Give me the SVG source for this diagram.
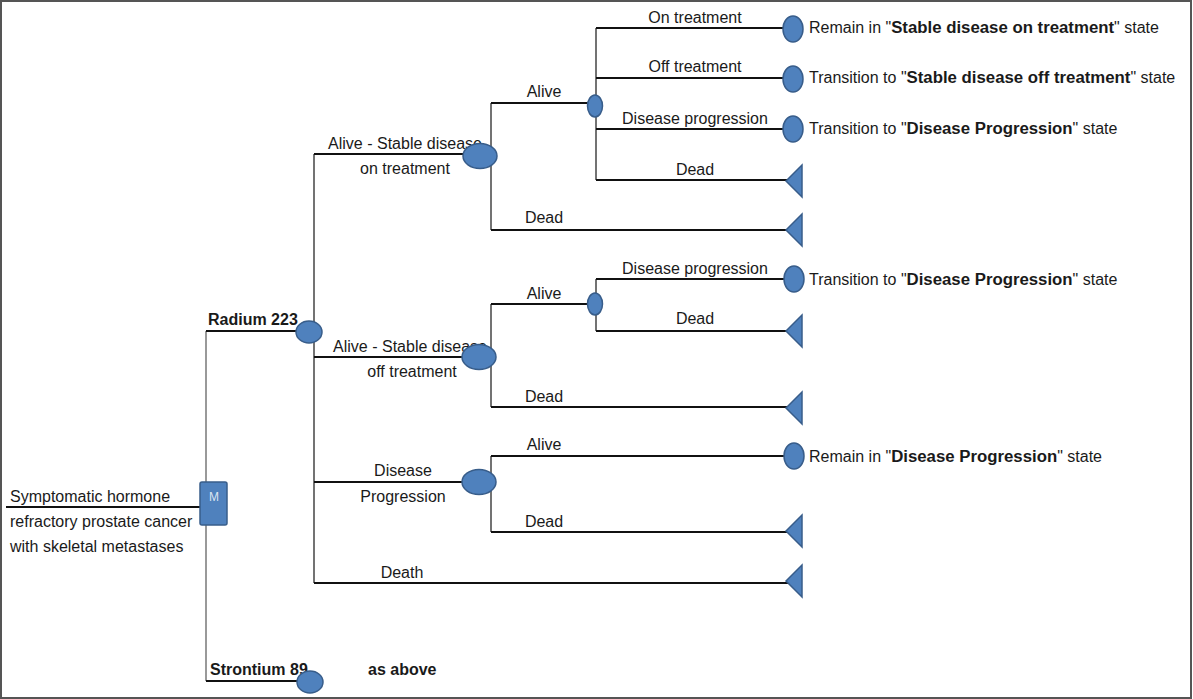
<svg xmlns="http://www.w3.org/2000/svg" width="1193" height="699" viewBox="0 0 1193 699">
<style>
text{font-family:"Liberation Sans",Arial,sans-serif;font-size:16px;fill:#1a1a1a}
.b{font-weight:bold}
.bt{font-weight:bold;font-size:16.8px}
.m{text-anchor:middle}
.h{stroke:#111;stroke-width:2;fill:none}
.v{stroke:#444;stroke-width:1.5;fill:none}
.g{stroke:#777;stroke-width:1.5;fill:none}
.n{fill:#4f81bd;stroke:#385d8a;stroke-width:1.5}
</style>
<defs>
<polygon id="tri" points="0,0 16,-16 16,16" class="n"/>
</defs>
<rect x="1" y="1" width="1190" height="697" fill="#fff" stroke="#555" stroke-width="2"/>
<g id="connectors">
<line class="h" x1="6" y1="507" x2="200" y2="507"/>
<line class="g" x1="206" y1="331" x2="206" y2="681"/>
<line class="h" x1="206" y1="331" x2="300" y2="331"/>
<line class="h" x1="206" y1="681" x2="300" y2="681"/>
<line class="v" x1="314" y1="154" x2="314" y2="583"/>
<line class="h" x1="314" y1="154" x2="470" y2="154"/>
<line class="h" x1="314" y1="357" x2="470" y2="357"/>
<line class="h" x1="314" y1="482" x2="470" y2="482"/>
<line class="h" x1="314" y1="583" x2="790" y2="583"/>
<line class="v" x1="491" y1="103" x2="491" y2="230"/>
<line class="h" x1="491" y1="103" x2="590" y2="103"/>
<line class="h" x1="491" y1="230" x2="790" y2="230"/>
<line class="v" x1="596" y1="28" x2="596" y2="180"/>
<line class="h" x1="596" y1="28" x2="785" y2="28"/>
<line class="h" x1="596" y1="78" x2="785" y2="78"/>
<line class="h" x1="596" y1="129" x2="785" y2="129"/>
<line class="h" x1="596" y1="180" x2="790" y2="180"/>
<line class="v" x1="491" y1="304" x2="491" y2="407"/>
<line class="h" x1="491" y1="304" x2="590" y2="304"/>
<line class="h" x1="491" y1="407" x2="790" y2="407"/>
<line class="v" x1="596" y1="279" x2="596" y2="331"/>
<line class="h" x1="596" y1="279" x2="785" y2="279"/>
<line class="h" x1="596" y1="331" x2="790" y2="331"/>
<line class="v" x1="491" y1="456" x2="491" y2="532"/>
<line class="h" x1="491" y1="456" x2="785" y2="456"/>
<line class="h" x1="491" y1="532" x2="790" y2="532"/>
</g>
<g id="root">
<text x="10" y="502">Symptomatic hormone</text>
<text x="10" y="527">refractory prostate cancer</text>
<text x="10" y="552">with skeletal metastases</text>
</g>
<g id="decision">
<rect x="200" y="482" width="27" height="43" rx="2" class="n"/>
<text x="214" y="501" class="m" style="font-size:12px;fill:#dbe5f1">M</text>
</g>
<g id="radium">
<text x="208" y="325" class="b">Radium 223</text>
<ellipse cx="309" cy="332" rx="13" ry="11" class="n"/>
</g>
<g id="strontium">
<text x="210" y="675" class="b">Strontium 89</text>
<ellipse cx="310" cy="682" rx="13" ry="11" class="n"/>
<text x="368" y="675" class="b">as above</text>
</g>
<g id="sd-on">
<text x="405" y="149" class="m">Alive - Stable disease</text>
<text x="405" y="174" class="m">on treatment</text>
<ellipse cx="480" cy="156" rx="17" ry="12.5" class="n"/>
</g>
<g id="sd-on-alive">
<text x="544" y="97" class="m">Alive</text>
<ellipse cx="595" cy="106" rx="7.5" ry="11" class="n"/>
</g>
<g id="sd-on-alive-on">
<text x="695" y="23" class="m">On treatment</text>
<ellipse cx="793" cy="29" rx="10" ry="13" class="n"/>
<text x="809" y="33">Remain in "<tspan class="bt">Stable disease on treatment</tspan>" state</text>
</g>
<g id="sd-on-alive-off">
<text x="695" y="72" class="m">Off treatment</text>
<ellipse cx="793" cy="79" rx="10" ry="13" class="n"/>
<text x="809" y="83">Transition to "<tspan class="bt">Stable disease off treatment</tspan>" state</text>
</g>
<g id="sd-on-alive-prog">
<text x="695" y="124" class="m">Disease progression</text>
<ellipse cx="793" cy="129" rx="10" ry="13" class="n"/>
<text x="809" y="134">Transition to "<tspan class="bt">Disease Progression</tspan>" state</text>
</g>
<g id="sd-on-alive-dead">
<text x="695" y="175" class="m">Dead</text>
<use href="#tri" x="786" y="181"/>
</g>
<g id="sd-on-dead">
<text x="544" y="223" class="m">Dead</text>
<use href="#tri" x="786" y="230"/>
</g>
<g id="sd-off">
<text x="410" y="352" class="m">Alive - Stable disease</text>
<text x="412" y="377" class="m">off treatment</text>
<ellipse cx="479" cy="357" rx="17" ry="12.5" class="n"/>
</g>
<g id="sd-off-alive">
<text x="544" y="299" class="m">Alive</text>
<ellipse cx="595" cy="304" rx="7.5" ry="11" class="n"/>
</g>
<g id="sd-off-alive-prog">
<text x="695" y="274" class="m">Disease progression</text>
<ellipse cx="794" cy="279" rx="10" ry="13" class="n"/>
<text x="809" y="285">Transition to "<tspan class="bt">Disease Progression</tspan>" state</text>
</g>
<g id="sd-off-alive-dead">
<text x="695" y="324" class="m">Dead</text>
<use href="#tri" x="786" y="331"/>
</g>
<g id="sd-off-dead">
<text x="544" y="402" class="m">Dead</text>
<use href="#tri" x="786" y="408"/>
</g>
<g id="dp">
<text x="403" y="476" class="m">Disease</text>
<text x="403" y="502" class="m">Progression</text>
<ellipse cx="479" cy="482" rx="17" ry="12.5" class="n"/>
</g>
<g id="dp-alive">
<text x="544" y="450" class="m">Alive</text>
<ellipse cx="794" cy="456" rx="10" ry="13" class="n"/>
<text x="809" y="462">Remain in "<tspan class="bt">Disease Progression</tspan>" state</text>
</g>
<g id="dp-dead">
<text x="544" y="527" class="m">Dead</text>
<use href="#tri" x="786" y="531"/>
</g>
<g id="death">
<text x="402" y="578" class="m">Death</text>
<use href="#tri" x="786" y="581"/>
</g>
</svg>
